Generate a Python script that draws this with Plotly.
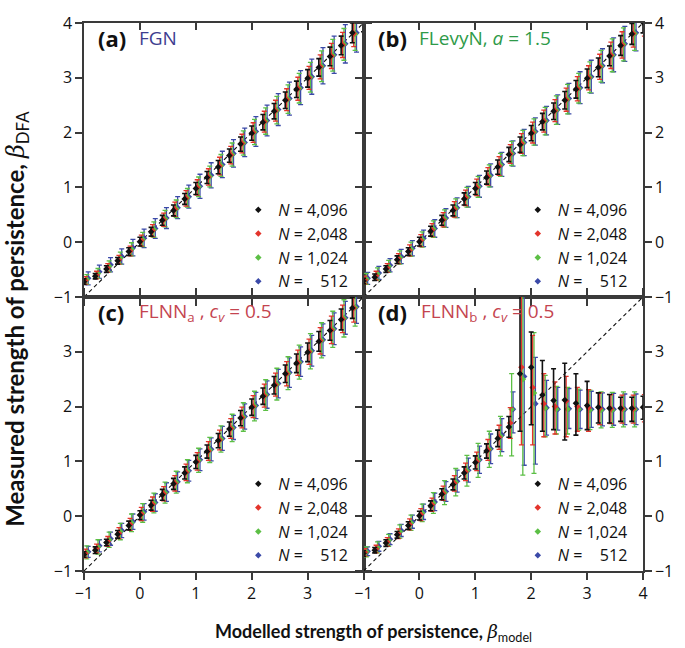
import plotly.graph_objects as go

# ---------------- data ----------------
beta = [-1.0, -0.8, -0.6, -0.4, -0.2, 0.0, 0.2, 0.4, 0.6, 0.8, 1.0, 1.2, 1.4,
        1.6, 1.8, 2.0, 2.2, 2.4, 2.6, 2.8, 3.0, 3.2, 3.4, 3.6, 3.8, 4.0]
diag = [-1, 4]

series_names = ["<i>N</i> = 4,096", "<i>N</i> = 2,048", "<i>N</i> = 1,024",
                "<i>N</i> = \u2007\u2008512"]

# (a) FGN
a_k = [-0.72,-0.62,-0.49,-0.34,-0.17,0.01,0.19,0.40,0.58,0.79,0.98,1.18,1.37,1.58,1.79,1.99,2.19,2.39,2.59,2.79,2.99,3.19,3.39,3.59,3.82,4.02]
a_r = [-0.70,-0.60,-0.47,-0.32,-0.16,0.03,0.21,0.41,0.60,0.80,1.00,1.19,1.39,1.59,1.80,2.00,2.20,2.40,2.60,2.80,3.00,3.20,3.40,3.60,3.81,4.01]
a_g = [-0.68,-0.57,-0.44,-0.29,-0.13,0.05,0.23,0.43,0.61,0.81,1.01,1.20,1.40,1.60,1.81,2.01,2.21,2.41,2.61,2.81,3.01,3.21,3.41,3.61,3.80,4.00]
a_b = [-0.66,-0.54,-0.41,-0.26,-0.10,0.07,0.25,0.44,0.63,0.83,1.02,1.22,1.42,1.62,1.82,2.02,2.22,2.42,2.62,2.82,3.02,3.22,3.42,3.62,3.82,4.02]
a_ek = [0.05,0.05,0.06,0.06,0.07,0.08,0.08,0.09,0.10,0.10,0.11,0.11,0.12,0.12,0.13,0.13,0.14,0.14,0.15,0.15,0.16,0.16,0.17,0.17,0.18,0.18]
a_er = [0.07,0.07,0.08,0.08,0.09,0.10,0.11,0.12,0.13,0.14,0.14,0.15,0.16,0.16,0.17,0.18,0.19,0.19,0.20,0.21,0.21,0.22,0.23,0.23,0.24,0.24]
a_eg = [0.09,0.09,0.10,0.11,0.12,0.13,0.14,0.15,0.16,0.17,0.18,0.19,0.20,0.21,0.22,0.23,0.24,0.25,0.26,0.27,0.27,0.28,0.29,0.29,0.30,0.30]
a_eb = [0.12,0.12,0.13,0.14,0.15,0.17,0.18,0.19,0.20,0.21,0.22,0.23,0.24,0.25,0.26,0.27,0.28,0.29,0.30,0.31,0.32,0.33,0.34,0.35,0.35,0.36]

# (b) FLevyN, a = 1.5
b_k = [-0.71,-0.64,-0.49,-0.32,-0.17,0.01,0.20,0.40,0.58,0.79,0.98,1.18,1.37,1.60,1.78,1.99,2.20,2.39,2.59,2.79,2.99,3.19,3.40,3.59,3.80,4.01]
b_r = [-0.69,-0.61,-0.47,-0.30,-0.15,0.03,0.22,0.41,0.60,0.81,1.00,1.20,1.39,1.61,1.80,2.00,2.21,2.40,2.60,2.80,3.00,3.20,3.41,3.60,3.81,4.01]
b_g = [-0.67,-0.58,-0.44,-0.28,-0.13,0.05,0.24,0.43,0.62,0.82,1.01,1.21,1.41,1.62,1.81,2.01,2.21,2.41,2.61,2.81,3.01,3.21,3.41,3.61,3.81,4.01]
b_b = [-0.66,-0.56,-0.42,-0.26,-0.11,0.07,0.25,0.44,0.63,0.83,1.02,1.22,1.42,1.62,1.82,2.02,2.22,2.42,2.62,2.82,3.02,3.22,3.42,3.62,3.82,4.02]
b_ek = [0.05,0.06,0.06,0.07,0.07,0.08,0.09,0.09,0.10,0.11,0.11,0.12,0.13,0.13,0.14,0.14,0.15,0.15,0.16,0.16,0.17,0.17,0.18,0.18,0.19,0.19]
b_er = [0.07,0.08,0.08,0.09,0.10,0.11,0.12,0.13,0.14,0.14,0.15,0.16,0.17,0.17,0.18,0.19,0.20,0.20,0.21,0.22,0.22,0.23,0.24,0.24,0.25,0.25]
b_eg = [0.10,0.11,0.11,0.12,0.13,0.14,0.15,0.16,0.17,0.18,0.19,0.20,0.21,0.22,0.23,0.24,0.25,0.26,0.27,0.27,0.28,0.29,0.30,0.30,0.31,0.31]
b_eb = [0.11,0.12,0.12,0.13,0.14,0.15,0.16,0.17,0.18,0.19,0.20,0.21,0.22,0.23,0.24,0.25,0.26,0.27,0.28,0.29,0.30,0.31,0.31,0.32,0.33,0.33]

# (c) FLNN_a, c_v = 0.5
c_k = [-0.70,-0.62,-0.48,-0.33,-0.17,0.02,0.20,0.39,0.59,0.79,0.99,1.18,1.38,1.59,1.79,1.99,2.19,2.39,2.60,2.79,2.99,3.19,3.39,3.59,3.80,4.00]
c_r = [-0.68,-0.59,-0.46,-0.31,-0.15,0.04,0.22,0.41,0.60,0.80,1.00,1.19,1.39,1.60,1.80,2.00,2.20,2.40,2.60,2.80,3.00,3.20,3.40,3.60,3.80,4.00]
c_g = [-0.66,-0.56,-0.43,-0.28,-0.12,0.06,0.24,0.43,0.62,0.82,1.02,1.21,1.41,1.61,1.81,2.01,2.21,2.41,2.61,2.81,3.01,3.21,3.41,3.61,3.81,4.01]
c_b = [-0.65,-0.54,-0.41,-0.26,-0.10,0.08,0.25,0.44,0.63,0.83,1.03,1.22,1.42,1.62,1.82,2.02,2.22,2.42,2.62,2.82,3.02,3.22,3.42,3.62,3.82,4.02]
c_ek = [0.05,0.06,0.06,0.07,0.08,0.08,0.09,0.10,0.10,0.11,0.12,0.12,0.13,0.13,0.14,0.15,0.15,0.16,0.16,0.17,0.17,0.18,0.18,0.19,0.19,0.20]
c_er = [0.08,0.08,0.09,0.10,0.11,0.12,0.13,0.13,0.14,0.15,0.16,0.17,0.18,0.18,0.19,0.20,0.21,0.21,0.22,0.23,0.23,0.24,0.25,0.25,0.26,0.26]
c_eg = [0.12,0.13,0.14,0.15,0.16,0.17,0.18,0.19,0.20,0.21,0.22,0.23,0.24,0.25,0.26,0.27,0.28,0.29,0.30,0.31,0.32,0.32,0.33,0.34,0.34,0.35]
c_eb = [0.10,0.11,0.12,0.13,0.14,0.15,0.16,0.17,0.18,0.19,0.20,0.21,0.22,0.22,0.23,0.24,0.25,0.26,0.27,0.27,0.28,0.29,0.29,0.30,0.30,0.31]

# (d) FLNN_b, c_v = 0.5  (asymmetric bars: up / down)
d_k = [-0.68,-0.62,-0.49,-0.34,-0.17,0.01,0.19,0.40,0.58,0.79,0.98,1.19,1.42,1.63,2.60,2.72,2.21,2.11,2.12,2.06,2.02,1.99,1.97,1.97,1.97,1.99]
d_k_up = [0.05,0.05,0.06,0.06,0.07,0.08,0.09,0.10,0.10,0.11,0.12,0.13,0.15,0.19,1.80,0.64,0.63,0.58,0.67,0.54,0.44,0.26,0.25,0.20,0.20,0.20]
d_k_dn = [0.05,0.05,0.06,0.06,0.07,0.08,0.09,0.10,0.10,0.11,0.12,0.13,0.15,0.19,1.05,1.05,0.66,0.53,0.73,0.58,0.44,0.29,0.27,0.24,0.24,0.22]
d_r = [-0.66,-0.60,-0.47,-0.32,-0.15,0.03,0.21,0.42,0.60,0.81,1.00,1.21,1.44,1.70,2.72,2.35,2.05,2.00,2.10,2.00,1.98,1.97,1.96,1.96,1.96,1.97]
d_r_up = [0.07,0.07,0.08,0.09,0.10,0.11,0.12,0.13,0.14,0.16,0.17,0.19,0.22,0.28,1.80,0.95,0.55,0.45,0.45,0.35,0.33,0.28,0.26,0.25,0.25,0.25]
d_r_dn = [0.07,0.07,0.08,0.09,0.10,0.11,0.12,0.13,0.14,0.16,0.17,0.19,0.22,0.28,1.42,1.05,0.60,0.50,0.65,0.45,0.43,0.30,0.27,0.26,0.26,0.25]
d_g = [-0.65,-0.57,-0.44,-0.28,-0.12,0.06,0.24,0.43,0.62,0.83,1.02,1.22,1.46,1.95,2.50,2.25,1.97,1.95,1.95,1.95,1.94,1.94,1.94,1.95,1.95,1.95]
d_g_up = [0.09,0.10,0.11,0.12,0.14,0.16,0.19,0.22,0.25,0.28,0.31,0.33,0.36,0.65,2.00,1.10,0.60,0.42,0.40,0.37,0.36,0.33,0.32,0.32,0.32,0.32]
d_g_dn = [0.09,0.10,0.11,0.12,0.14,0.16,0.19,0.22,0.25,0.28,0.31,0.33,0.36,0.85,1.75,1.47,0.52,0.45,0.45,0.38,0.36,0.33,0.32,0.32,0.32,0.32]
d_b = [-0.64,-0.55,-0.42,-0.26,-0.10,0.08,0.26,0.45,0.64,0.84,1.03,1.23,1.48,1.95,2.55,2.05,1.98,1.95,1.96,1.95,1.95,1.95,1.95,1.95,1.95,1.95]
d_b_up = [0.08,0.09,0.10,0.11,0.12,0.14,0.16,0.18,0.20,0.22,0.25,0.27,0.30,0.32,2.00,0.85,0.50,0.40,0.37,0.35,0.33,0.30,0.29,0.28,0.28,0.28]
d_b_dn = [0.08,0.09,0.10,0.11,0.12,0.14,0.16,0.18,0.20,0.22,0.25,0.27,0.30,0.43,1.62,1.10,0.50,0.38,0.36,0.35,0.33,0.30,0.29,0.28,0.28,0.28]

x_ticks = [-1, 0, 1, 2, 3, 4]
x_ticks_left = [-1, 0, 1, 2, 3]
y_ticks_top = [-1, 0, 1, 2, 3, 4]
y_ticks_bottom = [-1, 0, 1, 2, 3]

# ---------------- style ----------------
colors = ["#111111", "#e3342b", "#5cbf45", "#3b4aa8"]
offsets = [0.0, 0.025, 0.05, 0.075]
FONT = "Open Sans"
TFONT = "Lato"
AX = "#3a3a3a"

panels = [
    dict(xa="x", ya="y", legend="legend",
         means=[a_k, a_r, a_g, a_b], up=[a_ek, a_er, a_eg, a_eb], dn=None),
    dict(xa="x2", ya="y2", legend="legend2",
         means=[b_k, b_r, b_g, b_b], up=[b_ek, b_er, b_eg, b_eb], dn=None),
    dict(xa="x3", ya="y3", legend="legend3",
         means=[c_k, c_r, c_g, c_b], up=[c_ek, c_er, c_eg, c_eb], dn=None),
    dict(xa="x4", ya="y4", legend="legend4",
         means=[d_k, d_r, d_g, d_b], up=[d_k_up, d_r_up, d_g_up, d_b_up],
         dn=[d_k_dn, d_r_dn, d_g_dn, d_b_dn]),
]

fig = go.Figure()

for p in panels:
    fig.add_trace(go.Scatter(x=diag, y=diag, mode="lines", xaxis=p["xa"], yaxis=p["ya"],
                             line=dict(color="#111111", width=1.1, dash="4px,3px"),
                             showlegend=False, hoverinfo="skip"))
    # draw blue first, black last
    for i in [3, 2, 1, 0]:
        err = dict(type="data", array=p["up"][i], color=colors[i],
                   thickness=1.6 if i == 0 else 1.3, width=2.5)
        if p["dn"] is not None:
            err["symmetric"] = False
            err["arrayminus"] = p["dn"][i]
        fig.add_trace(go.Scatter(
            x=[b + offsets[i] for b in beta], y=p["means"][i],
            mode="markers", xaxis=p["xa"], yaxis=p["ya"],
            marker=dict(color=colors[i], size=5, symbol="diamond"),
            error_y=err, name=series_names[i],
            legend=p["legend"], showlegend=True))

# overlay axes carrying inward ticks on the top border
fig.add_trace(go.Scatter(x=[], y=[], xaxis="x5", yaxis="y", showlegend=False))
fig.add_trace(go.Scatter(x=[], y=[], xaxis="x6", yaxis="y2", showlegend=False))

common = dict(range=[-1, 4], showgrid=False, zeroline=False, showline=True,
              linecolor=AX, linewidth=1.5, tickcolor=AX, tickwidth=1.5, ticklen=7,
              tickfont=dict(family=FONT, size=16, color="#111"))

layout = dict(
    width=685, height=648,
    margin=dict(l=84, r=29, t=15, b=77),
    paper_bgcolor="white", plot_bgcolor="white",
    font=dict(family=FONT, size=15, color="#111"),
    xaxis=dict(common, domain=[0, 0.5], anchor="y", ticks="outside", mirror=True,
               tickvals=x_ticks, showticklabels=False),
    xaxis2=dict(common, domain=[0.5, 1], anchor="y2", ticks="outside", mirror=True,
                tickvals=x_ticks, showticklabels=False),
    xaxis3=dict(common, domain=[0, 0.5], anchor="y3", ticks="outside", mirror="ticks",
                tickvals=x_ticks_left),
    xaxis4=dict(common, domain=[0.5, 1], anchor="y4", ticks="outside", mirror="ticks",
                tickvals=x_ticks),
    xaxis5=dict(common, overlaying="x", side="top", anchor="y", ticks="inside",
                tickvals=x_ticks, showticklabels=False),
    xaxis6=dict(common, overlaying="x2", side="top", anchor="y2", ticks="inside",
                tickvals=x_ticks, showticklabels=False),
    yaxis=dict(common, domain=[0.5, 1], anchor="x", ticks="outside", mirror="ticks",
               tickvals=y_ticks_top),
    yaxis2=dict(common, domain=[0.5, 1], anchor="x2", side="right", ticks="outside",
                mirror="ticks", tickvals=y_ticks_top),
    yaxis3=dict(common, domain=[0, 0.5], anchor="x3", ticks="outside", mirror="ticks",
                tickvals=y_ticks_bottom),
    yaxis4=dict(common, domain=[0, 0.5], anchor="x4", side="right", ticks="outside",
                mirror="ticks", tickvals=y_ticks_bottom),
)

leg_common = dict(bgcolor="rgba(0,0,0,0)", traceorder="reversed", xanchor="left",
                  yanchor="top", font=dict(family=FONT, size=16, color="#111"),
                  itemsizing="trace", tracegroupgap=0)
layout["legend"] = dict(leg_common, x=0.276, y=0.69)
layout["legend2"] = dict(leg_common, x=0.776, y=0.69)
layout["legend3"] = dict(leg_common, x=0.276, y=0.19)
layout["legend4"] = dict(leg_common, x=0.776, y=0.19)

fig.update_layout(**layout)

# panel labels
labels = [
    ("x", "y", "(a)", "FGN", "#3d3d8f", 0.19),
    ("x2", "y2", "(b)", "FLevyN, <i>a</i> = 1.5", "#2e9a48", 0.19),
    ("x3", "y3", "(c)", "FLNN<sub>a</sub> , <i>c<sub>v</sub></i> = 0.5", "#c4444f", 0.19),
    ("x4", "y4", "(d)", "FLNN<sub>b</sub> , <i>c<sub>v</sub></i> = 0.5", "#c4444f", 0.20),
]
for xa, ya, lab, txt, col, tx in labels:
    fig.add_annotation(xref=f"{xa} domain", yref=f"{ya} domain", x=0.044, y=0.945,
                       text=f"<b>{lab}</b>", showarrow=False, xanchor="left", yanchor="middle",
                       font=dict(family=FONT, size=22, color="#111"))
    fig.add_annotation(xref=f"{xa} domain", yref=f"{ya} domain", x=tx, y=0.945,
                       text=txt, showarrow=False, xanchor="left", yanchor="middle",
                       font=dict(family=FONT, size=19, color=col))

beta_span = '<span style="font-family:DejaVu Serif;font-weight:normal"><i>β</i></span>'
fig.add_annotation(xref="paper", yref="paper", x=0.517, y=-0.112, showarrow=False,
                   xanchor="center", yanchor="middle",
                   text="<b>Modelled strength of persistence,</b> " + beta_span +
                        "<sub>model</sub>",
                   font=dict(family=TFONT, size=18, color="#111"))
fig.add_annotation(xref="paper", yref="paper", x=-0.12, y=0.46, showarrow=False,
                   xanchor="center", yanchor="middle", textangle=-90,
                   text="<b>Measured strength of persistence,</b> " + beta_span +
                        "<sub>DFA</sub>",
                   font=dict(family=TFONT, size=24, color="#111"))

fig.write_html("out.html")
